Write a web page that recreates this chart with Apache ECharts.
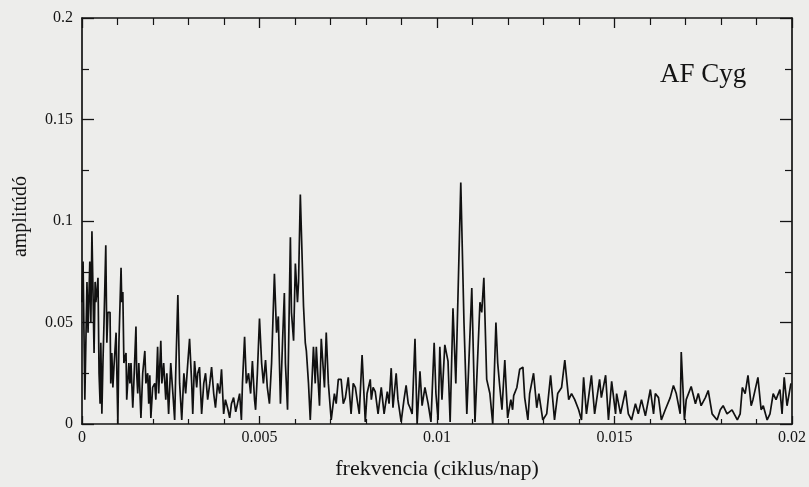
<!DOCTYPE html>
<html>
<head>
<meta charset="utf-8">
<script src="https://cdn.jsdelivr.net/npm/echarts@6/dist/echarts.min.js"></script>
<style>
html,body{margin:0;padding:0;background:#ededeb;}
#c{width:809px;height:487px;}
</style>
</head>
<body>
<div id="c"></div>
<script>
// frequency (ciklus/nap)
const freq = [
0.00000,0.00003,0.00008,0.00014,0.00017,0.00022,0.00025,0.00028,0.00034,0.00037,0.00039,0.00042,0.00045,0.00048,0.00051,0.00053,0.00056,0.00059,0.00062,0.00067,
0.00070,0.00073,0.00079,0.00081,0.00084,0.00087,0.00090,0.00096,0.00101,0.00104,0.00110,0.00112,0.00115,0.00118,0.00124,0.00126,0.00132,0.00135,0.00138,0.00143,
0.00146,0.00152,0.00154,0.00157,0.00160,0.00166,0.00171,0.00177,0.00180,0.00185,0.00188,0.00191,0.00194,0.00199,0.00205,0.00208,0.00213,0.00216,0.00222,0.00225,
0.00230,0.00236,0.00239,0.00244,0.00250,0.00256,0.00261,0.00264,0.00270,0.00275,0.00281,0.00287,0.00292,0.00298,0.00303,0.00309,0.00312,0.00317,0.00323,0.00326,
0.00331,0.00337,0.00343,0.00348,0.00354,0.00360,0.00365,0.00371,0.00376,0.00382,0.00388,0.00393,0.00399,0.00404,0.00410,0.00416,0.00421,0.00427,0.00433,0.00438,
0.00444,0.00449,0.00452,0.00458,0.00463,0.00469,0.00475,0.00480,0.00486,0.00489,0.00494,0.00500,0.00506,0.00511,0.00517,0.00522,0.00528,0.00534,0.00542,0.00548,
0.00553,0.00559,0.00565,0.00570,0.00573,0.00579,0.00587,0.00590,0.00596,0.00601,0.00607,0.00610,0.00615,0.00624,0.00629,0.00632,0.00638,0.00643,0.00652,0.00657,
0.00660,0.00669,0.00674,0.00683,0.00688,0.00694,0.00702,0.00711,0.00716,0.00722,0.00730,0.00736,0.00742,0.00750,0.00758,0.00764,0.00770,0.00775,0.00781,0.00789,
0.00798,0.00803,0.00812,0.00815,0.00820,0.00826,0.00834,0.00843,0.00851,0.00860,0.00865,0.00871,0.00876,0.00885,0.00890,0.00899,0.00907,0.00913,0.00919,0.00924,
0.00930,0.00938,0.00944,0.00952,0.00958,0.00966,0.00975,0.00983,0.00992,0.00997,0.01003,0.01008,0.01014,0.01022,0.01031,0.01037,0.01045,0.01053,0.01067,0.01076,
0.01084,0.01098,0.01107,0.01121,0.01126,0.01132,0.01140,0.01149,0.01157,0.01166,0.01171,0.01177,0.01183,0.01191,0.01199,0.01208,0.01213,0.01216,0.01225,0.01233,
0.01242,0.01247,0.01256,0.01261,0.01272,0.01281,0.01287,0.01298,0.01309,0.01320,0.01331,0.01340,0.01351,0.01360,0.01371,0.01379,0.01388,0.01399,0.01407,0.01413,
0.01421,0.01435,0.01444,0.01458,0.01463,0.01475,0.01483,0.01492,0.01503,0.01506,0.01517,0.01531,0.01539,0.01548,0.01559,0.01567,0.01576,0.01587,0.01601,0.01610,
0.01615,0.01624,0.01632,0.01643,0.01657,0.01666,0.01674,0.01685,0.01688,0.01697,0.01702,0.01716,0.01728,0.01736,0.01744,0.01756,0.01764,0.01775,0.01789,0.01798,
0.01806,0.01817,0.01831,0.01846,0.01854,0.01860,0.01868,0.01876,0.01885,0.01890,0.01904,0.01913,0.01919,0.01930,0.01938,0.01947,0.01955,0.01966,0.01972,0.01978,
0.01986,0.01992,0.01997
];
// amplitude (amplitúdó)
const amp = [
0.060,0.080,0.012,0.070,0.045,0.080,0.050,0.095,0.035,0.070,0.060,0.065,0.072,0.025,0.010,0.040,0.005,0.030,0.050,0.088,
0.040,0.055,0.055,0.020,0.035,0.018,0.028,0.045,0.000,0.040,0.077,0.060,0.065,0.030,0.035,0.012,0.030,0.020,0.030,0.008,
0.020,0.048,0.025,0.015,0.030,0.003,0.025,0.036,0.020,0.025,0.010,0.024,0.003,0.018,0.020,0.012,0.038,0.015,0.041,0.020,
0.030,0.012,0.025,0.005,0.030,0.015,0.002,0.025,0.0635,0.020,0.002,0.025,0.015,0.030,0.042,0.020,0.005,0.031,0.018,0.025,
0.028,0.005,0.020,0.025,0.012,0.020,0.028,0.015,0.008,0.020,0.015,0.027,0.005,0.012,0.008,0.003,0.010,0.013,0.006,0.010,
0.015,0.002,0.020,0.043,0.020,0.025,0.015,0.031,0.012,0.007,0.025,0.052,0.030,0.020,0.0315,0.018,0.010,0.030,0.074,0.045,
0.053,0.010,0.041,0.0645,0.030,0.007,0.092,0.055,0.041,0.079,0.060,0.070,0.113,0.058,0.040,0.036,0.020,0.002,0.038,0.020,
0.038,0.009,0.042,0.018,0.045,0.020,0.002,0.015,0.010,0.022,0.022,0.010,0.013,0.023,0.005,0.020,0.018,0.012,0.005,0.034,
0.001,0.015,0.022,0.012,0.018,0.016,0.005,0.018,0.005,0.016,0.010,0.0275,0.008,0.025,0.012,0.001,0.012,0.019,0.010,0.008,
0.005,0.042,0.000,0.026,0.009,0.018,0.010,0.001,0.040,0.015,0.002,0.038,0.012,0.039,0.031,0.001,0.057,0.020,0.119,0.050,
0.005,0.067,0.001,0.060,0.055,0.072,0.022,0.015,0.000,0.050,0.030,0.018,0.007,0.0315,0.003,0.012,0.007,0.014,0.018,0.027,
0.028,0.013,0.002,0.015,0.025,0.008,0.015,0.002,0.005,0.024,0.002,0.015,0.018,0.0315,0.012,0.015,0.012,0.007,0.002,0.023,
0.005,0.024,0.005,0.022,0.013,0.024,0.002,0.021,0.005,0.015,0.005,0.0165,0.005,0.002,0.010,0.005,0.012,0.004,0.017,0.005,
0.015,0.013,0.002,0.007,0.013,0.019,0.015,0.005,0.0355,0.002,0.012,0.0185,0.010,0.015,0.009,0.013,0.0165,0.005,0.002,0.007,
0.009,0.005,0.007,0.002,0.005,0.018,0.015,0.024,0.009,0.012,0.023,0.007,0.009,0.002,0.005,0.015,0.012,0.017,0.005,0.023,
0.009,0.015,0.020
];
const xTickLabels = ['0','0.005','0.01','0.015','0.02'];
const yTickLabels = ['0','0.05','0.1','0.15','0.2'];
const chartTitle = 'AF Cyg';
const xName = 'frekvencia (ciklus/nap)';
const yName = 'amplitúdó';

const data = freq.map((f, i) => [f, amp[i]]);
const serif = 'Liberation Serif';
const ink = '#141414';

const chart = echarts.init(document.getElementById('c'), null, {renderer: 'canvas'});
chart.setOption({
  backgroundColor: '#ededeb',
  animation: false,
  title: {
    text: chartTitle, left: 655, top: 56,
    textStyle: {fontFamily: serif, fontSize: 27, fontWeight: 'normal', color: ink}
  },
  graphic: [{
    type: 'text', left: 11, top: 176, rotation: Math.PI / 2,
    style: {text: yName, font: '20px "Liberation Serif"', fill: ink}
  }],
  grid: {left: 82, right: 16, top: 18, bottom: 63},
  xAxis: [{
    type: 'value', min: 0, max: 0.02, interval: 0.005,
    name: xName, nameLocation: 'middle', nameGap: 34,
    nameTextStyle: {fontFamily: serif, fontSize: 22, color: ink},
    axisLine: {show: true, onZero: false, lineStyle: {color: ink, width: 1.7}},
    axisTick: {inside: true, length: 8, lineStyle: {color: ink, width: 1.3}},
    minorTick: {show: true, splitNumber: 5, length: 5, lineStyle: {color: ink, width: 1.2}},
    axisLabel: {margin: 6, fontFamily: serif, fontSize: 16, color: ink,
      formatter: (v, i) => xTickLabels[i]},
    splitLine: {show: false}
  }, {
    type: 'value', min: 0, max: 0.02, interval: 0.005, position: 'top',
    axisLine: {show: true, onZero: false, lineStyle: {color: ink, width: 1.7}},
    axisTick: {inside: true, length: 10, lineStyle: {color: ink, width: 1.3}},
    minorTick: {show: true, splitNumber: 5, length: 7, lineStyle: {color: ink, width: 1.2}},
    axisLabel: {show: false}, splitLine: {show: false}
  }],
  yAxis: [{
    type: 'value', min: 0, max: 0.2, interval: 0.05,
    axisLine: {show: true, onZero: false, lineStyle: {color: ink, width: 1.7}},
    axisTick: {inside: true, length: 12, lineStyle: {color: ink, width: 1.3}},
    minorTick: {show: true, splitNumber: 2, length: 7, lineStyle: {color: ink, width: 1.2}},
    axisLabel: {margin: 9, fontFamily: serif, fontSize: 16, color: ink,
      formatter: (v, i) => yTickLabels[i]},
    splitLine: {show: false}
  }, {
    type: 'value', min: 0, max: 0.2, interval: 0.05, position: 'right',
    axisLine: {show: true, onZero: false, lineStyle: {color: ink, width: 1.7}},
    axisTick: {inside: true, length: 12, lineStyle: {color: ink, width: 1.3}},
    minorTick: {show: true, splitNumber: 2, length: 7, lineStyle: {color: ink, width: 1.2}},
    axisLabel: {show: false}, splitLine: {show: false}
  }],
  series: [{
    type: 'line', data: data, xAxisIndex: 0, yAxisIndex: 0,
    showSymbol: false, smooth: false,
    lineStyle: {color: '#111', width: 1.7}
  }]
});
</script>
</body>
</html>
